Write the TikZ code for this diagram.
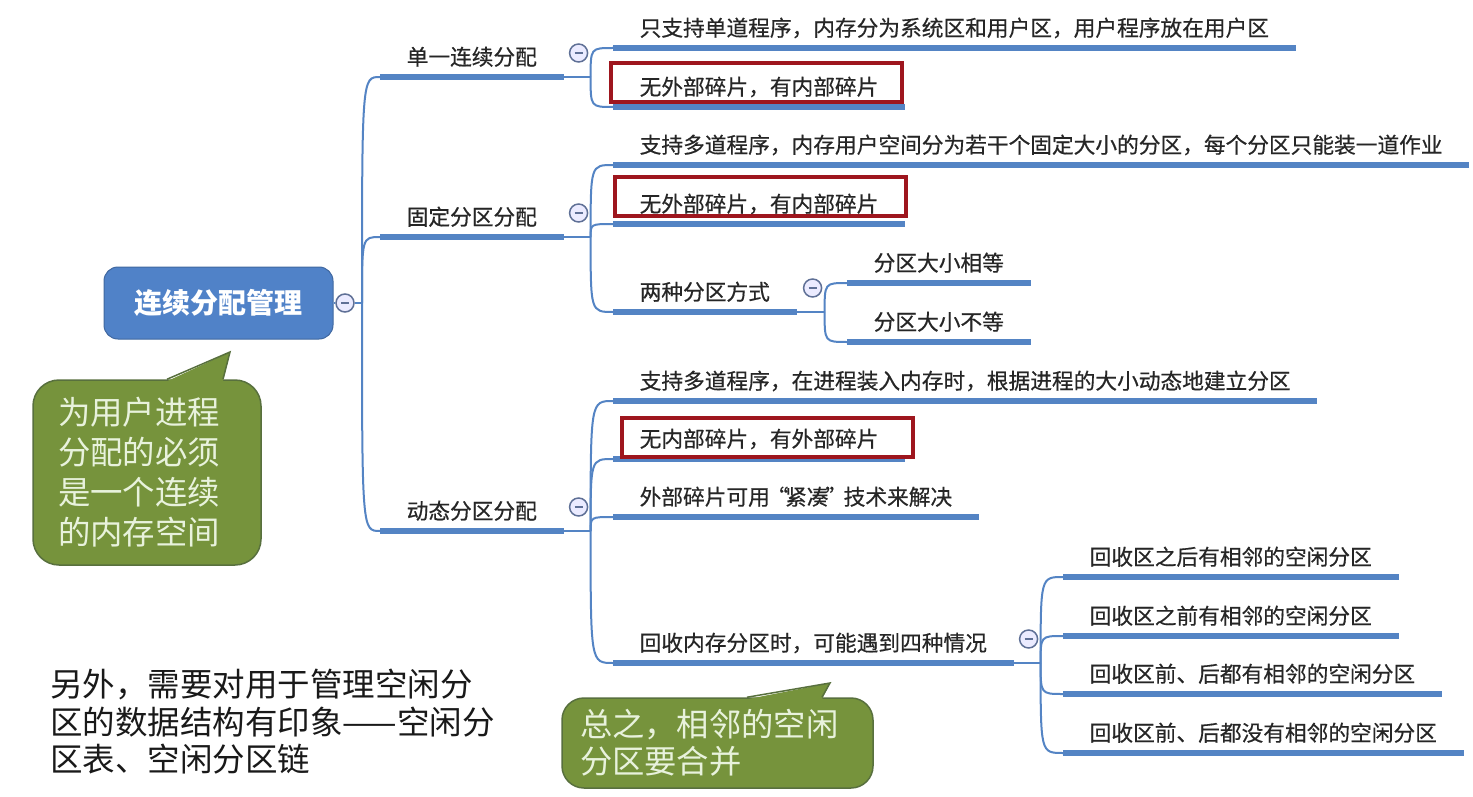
\documentclass[tikz,border=0pt]{standalone}
\usepackage{fontspec}
\setmainfont{Noto Sans CJK SC}
\newfontfamily\mapfont{Noto Sans CJK SC}[FakeBold=0.5]
\usepackage{tikz}
\usetikzlibrary{calc}

\definecolor{mapblue}{RGB}{84,132,196}
\definecolor{rootblue}{RGB}{80,130,200}
\definecolor{boxred}{RGB}{158,22,30}
\definecolor{notegreen}{RGB}{118,147,60}
\definecolor{noteline}{RGB}{88,112,62}
\definecolor{notetext}{RGB}{232,242,220}
\definecolor{foldline}{RGB}{95,112,150}

\tikzset{
  rootbox/.style={fill=rootblue, draw=rootblue!80!black, line width=1pt, rounded corners=14pt,
    minimum width=229pt, minimum height=72pt, text=white, font=\fontsize{28}{32}\selectfont\bfseries},
  topic/.style={anchor=south west, inner xsep=26.5pt, inner ysep=11.8pt, text depth=0pt,
    font=\mapfont\fontsize{21.7}{26}\selectfont, text=black!85},
  underbar/.style={draw=mapblue, line width=5.5pt},
  conn/.style={draw=mapblue, line width=2pt},
  fold/.style={circle, draw=foldline, fill=white!92!blue, line width=1.5pt, minimum size=18pt, inner sep=0pt,
    path picture={\draw[foldline, line width=1.6pt] ([xshift=-4pt]path picture bounding box.center)
      -- ([xshift=4pt]path picture bounding box.center);}},
  hilite/.style={draw=boxred, line width=4pt, minimum width=291pt, minimum height=39pt, inner sep=0pt},
  note/.style={fill=notegreen, draw=noteline, line width=1.5pt, rounded corners=26pt, text=notetext,
    align=left, font=\fontsize{32.4}{40}\selectfont},
}

\begin{document}
\begin{tikzpicture}[x=1pt, y=-1pt]
  \fill[white] (0,0) rectangle (1473,797);
  \useasboundingbox (0,0) rectangle (1473,797);

  % root and first level
  \node[rootbox] (root) at (218.5,303) {连续分配管理};
  \node[fold] (f0) at (345,303) {};
  \coordinate (J0) at (362,303);
  \node[topic] (s1) at (380,77) {单一连续分配};
  \node[topic] (s2) at (380,237) {固定分区分配};
  \node[topic] (s3) at (380,531) {动态分区分配};

  % second level
  \node[topic] (s1a) at (613,48) {只支持单道程序，内存分为系统区和用户区，用户程序放在用户区};
  \node[topic] (s1b) at (613,107) {无外部碎片，有内部碎片};
  \node[topic] (s2a) at (613,165) {支持多道程序，内存用户空间分为若干个固定大小的分区，每个分区只能装一道作业};
  \node[topic] (s2b) at (613,224) {无外部碎片，有内部碎片};
  \node[topic] (s2c) at (613,312) {两种分区方式};
  \node[topic] (s3a) at (613,401) {支持多道程序，在进程装入内存时，根据进程的大小动态地建立分区};
  \node[topic] (s3b) at (613,459) {无内部碎片，有外部碎片};
  \node[topic] (s3c) at (613,517) {外部碎片可用\makebox[0.7em]{“}紧凑\makebox[0.7em]{”}技术来解决};
  \node[topic] (s3d) at (613,663) {回收内存分区时，可能遇到四种情况};

  % third level
  \node[topic] (s2c1) at (847,283) {分区大小相等};
  \node[topic] (s2c2) at (847,342) {分区大小不等};
  \node[topic] (s3d1) at (1063,577) {回收区之后有相邻的空闲分区};
  \node[topic] (s3d2) at (1063,636) {回收区之前有相邻的空闲分区};
  \node[topic] (s3d3) at (1063,694) {回收区前、后都有相邻的空闲分区};
  \node[topic] (s3d4) at (1063,753) {回收区前、后都没有相邻的空闲分区};

  % branch points
  \coordinate (J1) at ([xshift=27pt]s1.south east);
  \coordinate (J2) at ([xshift=27pt]s2.south east);
  \coordinate (J3) at ([xshift=27pt]s3.south east);
  \coordinate (J4) at ([xshift=28pt]s2c.south east);
  \coordinate (J5) at ([xshift=27pt]s3d.south east);

  % connectors
  \draw[conn] (root.east) -- (f0.west);
  \draw[conn] (f0.east) -- (J0);
  \foreach \s in {s1,s2,s3}
    \draw[conn] (J0) .. controls (J0 |- \s.south west) .. (\s.south west);
  \foreach \s/\j in {s1/J1, s2/J2, s3/J3, s2c/J4, s3d/J5}
    \draw[conn] (\s.south east) -- (\j);
  \foreach \j/\c in {J1/s1a, J1/s1b, J2/s2a, J2/s2b, J2/s2c, J4/s2c1, J4/s2c2,
                     J3/s3a, J3/s3b, J3/s3c, J3/s3d, J5/s3d1, J5/s3d2, J5/s3d3, J5/s3d4}
    \draw[conn] (\j) .. controls (\j |- \c.south west) .. (\c.south west);
  \foreach \s in {s1,s2,s3,s1a,s1b,s2a,s2b,s2c,s3a,s3b,s3c,s3d,s2c1,s2c2,s3d1,s3d2,s3d3,s3d4}
    \path[underbar] (\s.south west) -- (\s.south east);

  % fold markers
  \foreach \j/\n in {J1/f1, J2/f2, J3/f3, J4/f4, J5/f5}
    \node[fold] (\n) at ([shift={(-12,-24)}]\j) {};

  % red frames
  \node[hilite] (h1) at (756.5,82.5) {};
  \node[hilite] (h2) at (760,196.5) {};
  \node[hilite] (h3) at (767,437) {};

  % callouts
  \node[note, minimum width=228pt, minimum height=185pt, text width=178pt] (n1) at (147,472.5)
    {为用户进程\\分配的必须\\是一个连续\\的内存空间};
  \coordinate (p1) at (230,352);
  \fill[notegreen] ([shift={(20,2)}]n1.north) -- (p1) -- ([shift={(76,2)}]n1.north) -- cycle;
  \draw[noteline, line width=1.5pt] ([shift={(20,0)}]n1.north) -- (p1) -- ([shift={(76,0)}]n1.north);

  \node[note, rounded corners=22pt, minimum width=311pt, minimum height=90pt, text width=275pt,
    font=\fontsize{32.3}{37}\selectfont] (n2) at (717.5,743) {总之，相邻的空闲\\分区要合并};
  \coordinate (p2) at (830,683);
  \fill[notegreen] ([shift={(29.5,2)}]n2.north) -- (p2) -- ([shift={(104.5,2)}]n2.north) -- cycle;
  \draw[noteline, line width=1.5pt] ([shift={(29.5,0)}]n2.north) -- (p2) -- ([shift={(104.5,0)}]n2.north);

  \node[anchor=west, align=left, inner sep=0pt, text=black!90, font=\fontsize{32.5}{37.5}\selectfont]
    (extra) at (50,722) {另外，需要对用于管理空闲分\\区的数据结构有印象——空闲分\\区表、空闲分区链};
\end{tikzpicture}
\end{document}
